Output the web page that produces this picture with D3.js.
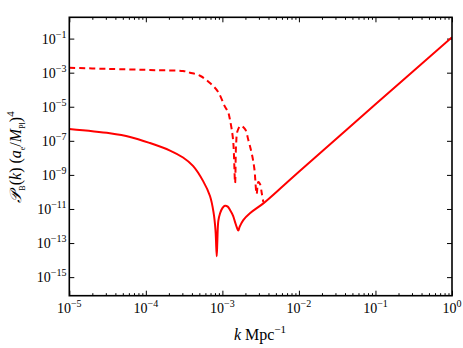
<!DOCTYPE html>
<html>
<head>
<meta charset="utf-8">
<script src="https://cdn.jsdelivr.net/npm/d3@7"></script>
<style>
  body { margin: 0; background: #fff; }
  text { font-family: "Liberation Serif", "DejaVu Serif", serif; fill: #000; }
</style>
</head>
<body>
<script>
'use strict';

// values, as log10 of k and log10 of P_B
const solidLogK = [-5, -4.47, -4.206, -3.946, -3.684, -3.514, -3.384, -3.253, -3.162, -3.116,
  -3.09, -3.074, -3.066, -3.053, -3.03, -3.0, -2.966, -2.93, -2.90, -2.86, -2.835, -2.81,
  -2.792, -2.775, -2.727, -2.64, -2.465, -2.2, -2.0, -1.0, 0];
const solidLogP = [-6.31, -6.56, -6.77, -7.13, -7.57, -7.98, -8.47, -9.35, -10.24, -11.18,
  -12.24, -13.77, -12.9, -11.7, -11.25, -10.95, -10.81, -10.86, -11.06, -11.4, -11.76, -12.1,
  -12.27, -12.05, -11.65, -11.25, -10.67, -9.62, -8.82, -4.86, -0.92];

const dashedLogK = [-5, -4.5, -3.95, -3.815, -3.514, -3.423, -3.292, -3.162, -3.057, -2.966,
  -2.927, -2.90, -2.86, -2.834, -2.821, -2.802, -2.763, -2.704, -2.661, -2.617, -2.583,
  -2.552, -2.531, -2.509, -2.486, -2.465];
const dashedLogP = [-2.71, -2.78, -2.84, -2.86, -2.90, -3.0, -3.18, -3.61, -4.12, -5.0,
  -5.29, -5.78, -6.95, -9.47, -7.24, -6.42, -6.13, -6.31, -6.95, -7.73, -8.61,
  -10.12, -9.42, -9.53, -10.06, -10.59];

const xMajorExp = [-5, -4, -3, -2, -1, 0];
const yMajorExp = [-15, -13, -11, -9, -7, -5, -3, -1];

(function() {

  const width = 463, height = 348;
  const left = 69.3, right = 452, top = 17.3, bottom = 295.7;

  const svg = d3.select('body').append('svg')
    .attr('width', width)
    .attr('height', height);

  const x = d3.scaleLog().domain([1e-5, 1]).range([left, right]);
  const y = d3.scaleLog().domain([Math.pow(10, -16.09), Math.pow(10, 0.25)]).range([bottom, top]);

  // minor ticks on the k axis
  let xMinor = [];
  for (let e = -5; e < 0; e++) {
    for (let m = 2; m <= 9; m++) xMinor.push(m * Math.pow(10, e));
  }
  const xMajor = xMajorExp.map(e => Math.pow(10, e));
  const yMajor = yMajorExp.map(e => Math.pow(10, e));

  function tickGroup(axis, tx, ty) {
    const g = svg.append('g').attr('transform', `translate(${tx},${ty})`).call(axis);
    g.select('.domain').remove();
    g.selectAll('line').attr('stroke', '#000').attr('stroke-width', 1);
    g.selectAll('text').remove();
    return g;
  }

  // inward ticks on all four sides
  tickGroup(d3.axisBottom(x).tickValues(xMajor).tickSize(-5), 0, bottom);
  tickGroup(d3.axisBottom(x).tickValues(xMinor).tickSize(-2.5), 0, bottom);
  tickGroup(d3.axisTop(x).tickValues(xMajor).tickSize(-5), 0, top);
  tickGroup(d3.axisTop(x).tickValues(xMinor).tickSize(-2.5), 0, top);
  tickGroup(d3.axisLeft(y).tickValues(yMajor).tickSize(-5), left, 0);
  tickGroup(d3.axisRight(y).tickValues(yMajor).tickSize(-5), right, 0);

  // power-of-ten labels
  function powLabel(sel, exp) {
    sel.append('tspan').style('font-size', '14px').text('10');
    sel.append('tspan').style('font-size', '10px').attr('dy', -6)
      .text(exp === 0 ? '0' : '\u2212' + Math.abs(exp));
  }

  xMajorExp.forEach(e => {
    const t = svg.append('text')
      .attr('x', x(Math.pow(10, e)))
      .attr('y', 313)
      .attr('text-anchor', 'middle');
    powLabel(t, e);
  });

  yMajorExp.forEach(e => {
    const t = svg.append('text')
      .attr('x', 66.5)
      .attr('y', y(Math.pow(10, e)) + 5)
      .attr('text-anchor', 'end');
    powLabel(t, e);
  });

  // curves
  const line = d3.line()
    .x(d => x(Math.pow(10, d[0])))
    .y(d => y(Math.pow(10, d[1])))
    .curve(d3.curveCatmullRom.alpha(0.5));

  svg.append('clipPath').attr('id', 'plotclip')
    .append('rect').attr('x', left).attr('y', top)
    .attr('width', right - left).attr('height', bottom - top);

  svg.append('path')
    .datum(dashedLogK.map((k, i) => [k, dashedLogP[i]]))
    .attr('d', line)
    .attr('fill', 'none')
    .attr('stroke', '#ff0000')
    .attr('stroke-width', 2)
    .attr('stroke-dasharray', '6,4')
    .attr('clip-path', 'url(#plotclip)');

  svg.append('path')
    .datum(solidLogK.map((k, i) => [k, solidLogP[i]]))
    .attr('d', line)
    .attr('fill', 'none')
    .attr('stroke', '#ff0000')
    .attr('stroke-width', 2)
    .attr('clip-path', 'url(#plotclip)');

  // frame
  svg.append('rect')
    .attr('x', left).attr('y', top)
    .attr('width', right - left).attr('height', bottom - top)
    .attr('fill', 'none')
    .attr('stroke', '#000')
    .attr('stroke-width', 1.6);

  // axis labels
  const xl = svg.append('text')
    .attr('x', 260)
    .attr('y', 340)
    .attr('text-anchor', 'middle')
    .style('font-size', '16px');
  xl.append('tspan').style('font-style', 'italic').text('k');
  xl.append('tspan').text(' Mpc');
  xl.append('tspan').style('font-size', '11px').attr('dy', -7).text('\u22121');

  const yl = svg.append('text')
    .attr('transform', 'translate(21,157)rotate(-90)')
    .attr('text-anchor', 'middle')
    .style('font-size', '16px');
  yl.append('tspan').style('font-style', 'italic').text('\uD835\uDCAB');
  yl.append('tspan').style('font-size', '8px').attr('dy', 4).text('B');
  yl.append('tspan').attr('dy', -4).text('(');
  yl.append('tspan').style('font-style', 'italic').text('k');
  yl.append('tspan').text(') (');
  yl.append('tspan').style('font-style', 'italic').text('a');
  yl.append('tspan').style('font-size', '8px').attr('dy', 4).text('e');
  yl.append('tspan').attr('dy', -4).text('/');
  yl.append('tspan').style('font-style', 'italic').text('M');
  yl.append('tspan').style('font-size', '8px').attr('dy', 4).text('Pl');
  yl.append('tspan').attr('dy', -4).text(')');
  yl.append('tspan').style('font-size', '11px').attr('dy', -7).text('4');

})();
</script>
</body>
</html>
